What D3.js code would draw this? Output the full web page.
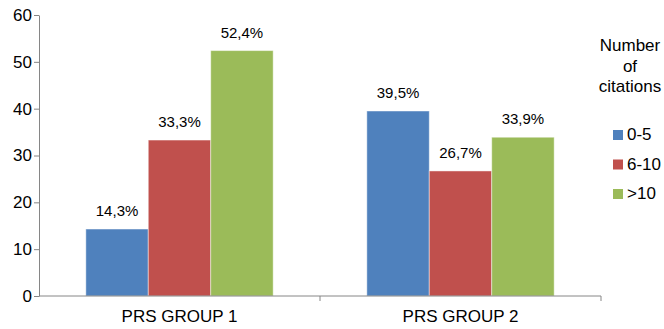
<!DOCTYPE html>
<html>
<head>
<meta charset="utf-8">
<script src="https://cdn.jsdelivr.net/npm/d3@7"></script>
<style>
  body { margin: 0; background: #fff; }
  text { font-family: "Liberation Sans", Arial, sans-serif; fill: #000; }
</style>
</head>
<body>
<div class="chart"></div>
<script>
var groups = ["PRS GROUP 1", "PRS GROUP 2"];
var series = ["0-5", "6-10", ">10"];
var colors = ["#4F81BD", "#C0504D", "#9BBB59"];
var values0to5 = [14.3, 39.5];
var values6to10 = [33.3, 26.7];
var valuesOver10 = [52.4, 33.9];
var yTicks = [0, 10, 20, 30, 40, 50, 60];
var legendTitle = ["Number", "of", "citations"];

var allValues = [values0to5, values6to10, valuesOver10];

var width = 664, height = 329;
var marginLeft = 39, marginTop = 15, plotRight = 601, plotBottom = 296;

var svg = d3.select(".chart").append("svg")
  .attr("width", width)
  .attr("height", height);

var yScale = d3.scaleLinear()
  .domain([0, 60])
  .range([plotBottom, marginTop]);

var xScale = d3.scaleBand()
  .domain(groups)
  .range([marginLeft, plotRight]);

var inner = d3.scaleBand()
  .domain(series)
  .range([0, xScale.bandwidth()])
  .paddingOuter(0.75)
  .paddingInner(0);

// bars
series.forEach(function(s, si) {
  var g = svg.append("g");
  g.selectAll("rect")
    .data(groups)
    .enter()
    .append("rect")
    .attr("x", function(d) { return xScale(d) + inner(s); })
    .attr("y", function(d, i) { return yScale(allValues[si][i]); })
    .attr("width", inner.bandwidth())
    .attr("height", function(d, i) { return plotBottom - yScale(allValues[si][i]); })
    .attr("fill", colors[si])
    .attr("stroke", "#fff")
    .attr("stroke-opacity", 0.45)
    .attr("stroke-width", 1);

  g.selectAll("text")
    .data(groups)
    .enter()
    .append("text")
    .attr("x", function(d) { return xScale(d) + inner(s) + inner.bandwidth() / 2; })
    .attr("y", function(d, i) { return yScale(allValues[si][i]) - 13; })
    .attr("text-anchor", "middle")
    .style("font-size", "15px")
    .text(function(d, i) { return allValues[si][i].toFixed(1).replace(".", ",") + "%"; });
});

// y axis
var yAxis = svg.append("g")
  .attr("transform", "translate(" + marginLeft + ",0)")
  .call(d3.axisLeft(yScale).tickValues(yTicks).tickSize(5).tickPadding(2).tickSizeOuter(0));
yAxis.select(".domain").attr("stroke", "#868686");
yAxis.selectAll(".tick line").attr("stroke", "#868686");
yAxis.selectAll(".tick text")
  .style("font-size", "17px")
  .attr("fill", "#000");

// x axis
var xAxis = svg.append("g")
  .attr("transform", "translate(0," + plotBottom + ")")
  .call(d3.axisBottom(xScale).tickSize(0).tickPadding(14));
xAxis.select(".domain").attr("stroke", "#868686").attr("d", "M" + marginLeft + ",0H" + plotRight);
xAxis.selectAll(".tick text")
  .style("font-size", "17px")
  .attr("fill", "#000");

// category separators on x axis
svg.append("g").selectAll("line")
  .data(groups.slice(1).concat(["end"]))
  .enter()
  .append("line")
  .attr("x1", function(d) { return d === "end" ? plotRight : xScale(d); })
  .attr("x2", function(d) { return d === "end" ? plotRight : xScale(d); })
  .attr("y1", plotBottom)
  .attr("y2", plotBottom + 5)
  .attr("stroke", "#868686");

// legend
var legend = svg.append("g");
legend.selectAll("text.title")
  .data(legendTitle)
  .enter()
  .append("text")
  .attr("class", "title")
  .attr("x", 630)
  .attr("y", function(d, i) { return 51 + i * 20.5; })
  .attr("text-anchor", "middle")
  .style("font-size", "17px")
  .text(function(d) { return d; });

var items = legend.selectAll("g.item")
  .data(series)
  .enter()
  .append("g")
  .attr("class", "item")
  .attr("transform", function(d, i) { return "translate(613," + (130 + i * 29.5) + ")"; });
items.append("rect")
  .attr("width", 10)
  .attr("height", 10)
  .attr("fill", function(d, i) { return colors[i]; });
items.append("text")
  .attr("x", 14)
  .attr("y", 10)
  .style("font-size", "17px")
  .text(function(d) { return d; });
</script>
</body>
</html>
